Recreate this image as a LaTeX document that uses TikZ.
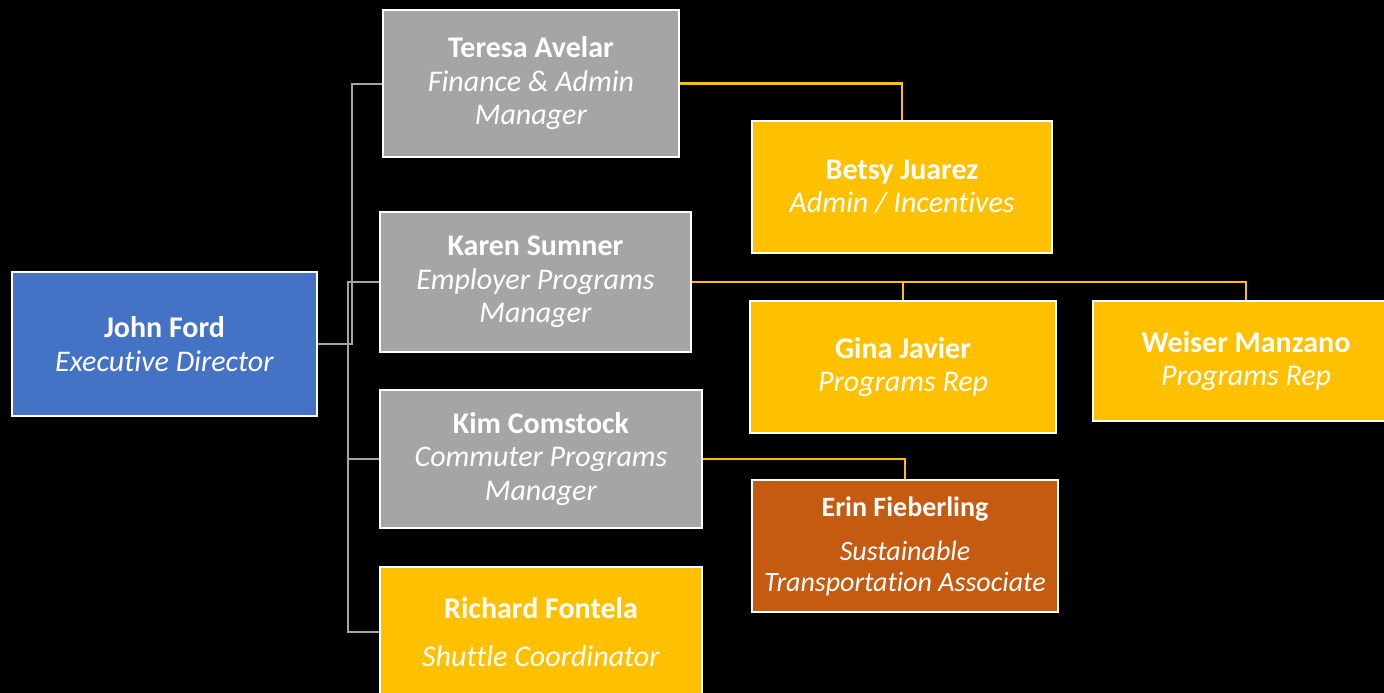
\documentclass[tikz,border=0pt]{standalone}
\usepackage{fontspec}
\setmainfont[RawFeature={-liga;-clig;-calt}]{Carlito}
\usetikzlibrary{positioning}

\definecolor{dirblue}{HTML}{4472C4}
\definecolor{mgrgray}{HTML}{A5A5A5}
\definecolor{staffgold}{HTML}{FFC000}
\definecolor{assocorange}{HTML}{C55A11}

\begin{document}
\begin{tikzpicture}[x=1pt,y=-1pt,line width=2pt]
  \tikzstyle{member}=[draw=white,line width=2pt,rectangle,inner sep=0pt,
                      text=white,align=center,font=\fontsize{30}{33.5}\selectfont]
  \tikzstyle{director}=[member,fill=dirblue]
  \tikzstyle{manager}=[member,fill=mgrgray]
  \tikzstyle{staff}=[member,fill=staffgold]
  \tikzstyle{associate}=[member,fill=assocorange,font=\fontsize{28}{31}\selectfont]
  \tikzstyle{grayline}=[draw=mgrgray]
  \tikzstyle{goldline}=[draw=staffgold,line width=2.5pt]

  \fill[black] (0,0) rectangle (1384,693);
  \path[use as bounding box,clip] (0,0) rectangle (1384,693);

  \node[director,minimum width=305pt,minimum height=144pt] (john)    at (164.5,344) {\textbf{John Ford}\\\textit{Execut\kern0pt ive Director}};
  \node[manager,minimum width=296pt,minimum height=147pt]  (teresa)  at (531,83.5)  {\textbf{Teresa Avelar}\\\textit{Finance \& Admin}\\\textit{Manager}};
  \node[manager,minimum width=311pt,minimum height=140pt]  (karen)   at (535.5,282) {\textbf{Karen Sumner}\\\textit{Employer Programs}\\\textit{Manager}};
  \node[manager,minimum width=322pt,minimum height=138pt]  (kim)     at (541,459)   {\textbf{Kim Comstock}\\\textit{Commuter Programs}\\\textit{Manager}};
  \node[staff,minimum width=322pt,minimum height=130pt]    (richard) at (541,632)   {\textbf{Richard Fontela}\\[14pt]\textit{Shuttle Coordinator}};
  \node[staff,minimum width=300pt,minimum height=132pt]    (betsy)   at (902,187)   {\textbf{Betsy Juarez}\\\textit{Admin / Incent\kern0pt ives}};
  \node[staff,minimum width=306pt,minimum height=132pt]    (gina)    at (903,367)   {\textbf{Gina Javier}\\\textit{Programs Rep}};
  \node[staff,minimum width=306pt,minimum height=120pt]    (weiser)  at (1246,361)  {\textbf{Weiser Manzano}\\\textit{Programs Rep}};
  \node[associate,minimum width=306pt,minimum height=132pt] (erin)   at (905,546)   {\textbf{Erin Fieberling}\\[13pt]\textit{Sustainable}\\\textit{Transportation Associate}};

  % links to the director
  \coordinate (jtrunk) at (352,344);
  \coordinate (mtrunk) at (348,282);
  \path[grayline] (john.east) -- (jtrunk) |- (teresa.west);
  \path[grayline] (karen.west) -- (mtrunk) |- (richard.west);
  \path[grayline] (kim.west) -- (mtrunk |- kim.west);

  % links to the managers
  \path[goldline] (teresa.east) -| (betsy.north);
  \path[goldline] (karen.east) -| (gina.north);
  \path[goldline] (karen.east) -| (weiser.north);
  \path[goldline] (kim.east) -| (erin.north);
\end{tikzpicture}
\end{document}
